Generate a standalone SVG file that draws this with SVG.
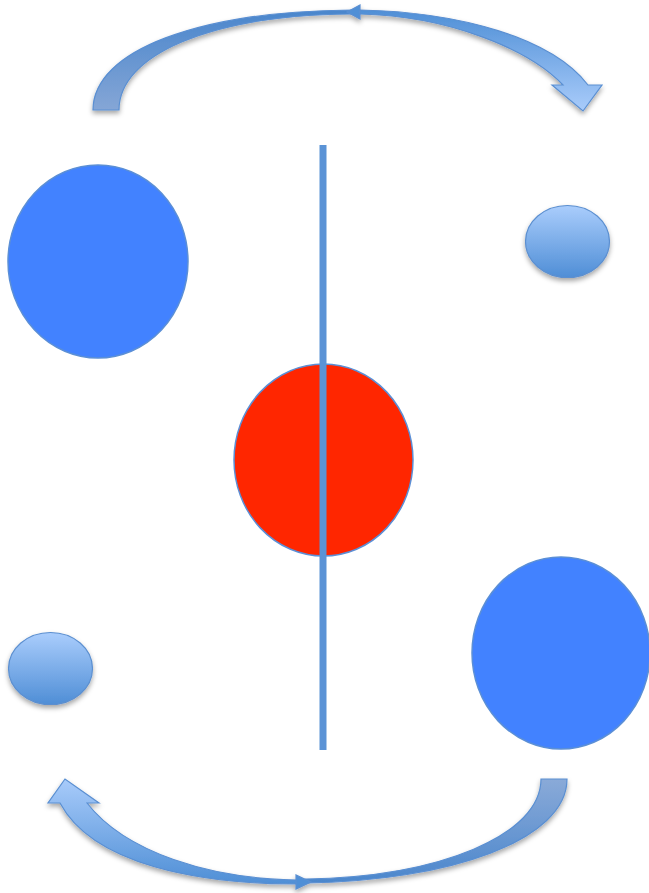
<svg xmlns="http://www.w3.org/2000/svg" width="649" height="893" viewBox="0 0 649 893">
<defs>
<filter id="sh" x="-20%" y="-20%" width="140%" height="150%">
<feDropShadow dx="0" dy="3" stdDeviation="2.5" flood-color="#000" flood-opacity="0.35"/>
</filter>
<linearGradient id="ball" x1="0" y1="0" x2="0" y2="1">
<stop offset="0" stop-color="#aacdfc"/>
<stop offset="1" stop-color="#4f8ed6"/>
</linearGradient>
<linearGradient id="tTail" gradientUnits="userSpaceOnUse" x1="0" y1="110" x2="0" y2="10">
<stop offset="0" stop-color="#85a6d6"/>
<stop offset="1" stop-color="#4a86cc"/>
</linearGradient>
<linearGradient id="tHead" gradientUnits="userSpaceOnUse" x1="0" y1="10" x2="0" y2="110">
<stop offset="0" stop-color="#4f8fd6"/>
<stop offset="1" stop-color="#a8cbfa"/>
</linearGradient>
<linearGradient id="bTail" gradientUnits="userSpaceOnUse" x1="0" y1="779" x2="0" y2="884">
<stop offset="0" stop-color="#8aaad8"/>
<stop offset="1" stop-color="#4a86cc"/>
</linearGradient>
<linearGradient id="bHead" gradientUnits="userSpaceOnUse" x1="0" y1="779" x2="0" y2="884">
<stop offset="0" stop-color="#a8cbfa"/>
<stop offset="1" stop-color="#4f8fd6"/>
</linearGradient>
<style>
.arr{stroke:#5a8fd2;stroke-width:1.2;stroke-linejoin:miter}
.big{fill:#4282ff;stroke:#5b8fd6;stroke-width:1.5}
.red{fill:#ff2600;stroke:#5b8fd6;stroke-width:1.5}
.small{fill:url(#ball);stroke:#5b8fd0;stroke-width:1.2}
</style>
</defs>
<g id="connectors">
<g id="top-arrow" filter="url(#sh)">
<path class="arr" fill="url(#tTail)" d="M93,110 C93,50 200,11 352,10 L352,14 C210,15 119,55 119,110 Z"/>
<path class="arr" fill="#4f8fd6" d="M347,12 L360,5 L360,19 Z"/>
<path class="arr" fill="url(#tHead)" d="M360,10 C460,12 552,38 588,85 L602,85 L583,111 L552,85 L563,85 C530,50 450,16 360,14 Z"/>
</g>
<g id="bottom-arrow" filter="url(#sh)">
<path class="arr" fill="url(#bTail)" d="M567,779 C567,840 450,881 305,883 L305,879 C440,877 541,835 541,779 Z"/>
<path class="arr" fill="url(#bHead)" d="M297,884 C200,884 93,865 60,803 L48,803 L65,779 L99,803 L87,803 C125,852 210,879 297,880 Z"/>
<path class="arr" fill="#4f8fd6" d="M311,882 L296,875 L296,889 Z"/>
</g>
</g>
<g id="left-big"><ellipse class="big" cx="98" cy="261.5" rx="90" ry="96.5"/></g>
<g id="right-big"><ellipse class="big" cx="561" cy="653" rx="89" ry="96"/></g>
<g id="center-red"><ellipse class="red" cx="323.5" cy="460" rx="89.5" ry="96"/></g>
<g id="top-right-small" filter="url(#sh)"><ellipse class="small" cx="567.5" cy="241.5" rx="42" ry="36"/></g>
<g id="bottom-left-small" filter="url(#sh)"><ellipse class="small" cx="50.5" cy="668.5" rx="42" ry="36"/></g>
<g id="axis"><line x1="323" y1="145" x2="323" y2="750" stroke="#5b93d6" stroke-width="7"/></g>
</svg>
